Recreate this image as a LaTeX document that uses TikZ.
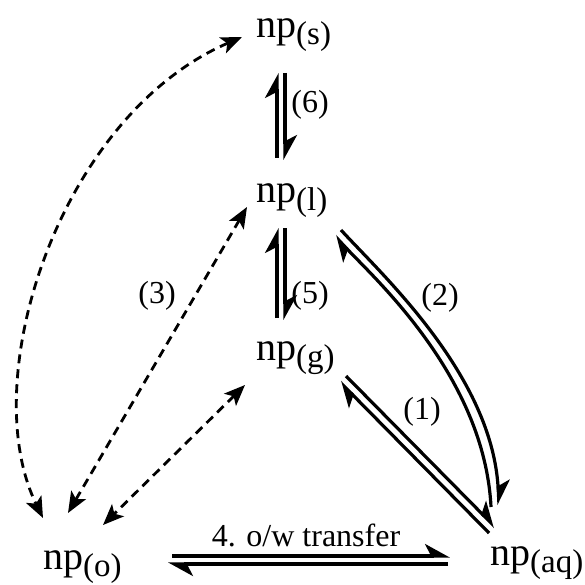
\documentclass[tikz,border=0pt]{standalone}
\usepackage{fontspec}
\setmainfont{Liberation Serif}
\usetikzlibrary{arrows.meta,calc}
\begin{document}
\begin{tikzpicture}[x=1pt,y=-1pt,
  np/.style={font=\fontsize{40}{44}\selectfont, inner sep=0pt, anchor=base west},
  lab/.style={font=\fontsize{32}{36}\selectfont, inner sep=0pt},
  eq/.style={line width=3.2pt, -{Stealth[left,length=22pt,width=24pt,inset=6pt]}},
  dsh/.style={line width=2.8pt, dash pattern=on 9pt off 6pt,
    {Stealth[length=21pt,width=17pt,inset=5pt]}-{Stealth[length=21pt,width=17pt,inset=5pt]}},
]
\useasboundingbox (0,0) rectangle (585,585);
\newcommand{\npsub}[1]{np\raisebox{-7pt}{\fontsize{33}{36}\selectfont(#1)}}
% species
\node[np] (s)  at (256,38)  {\npsub{s}};
\node[np] (l)  at (256,203) {\npsub{l}};
\node[np] (g)  at (256,360) {\npsub{g}};
\node[np] (o)  at (43,569)  {\npsub{o}};
\node[np] (aq) at (490,565) {\npsub{aq}};
% labels
\node[lab] (n6) at (310,105) {(6)};
\node[lab] (n5) at (310,296) {(5)};
\node[lab] (n3) at (157,296) {(3)};
\node[lab] (n2) at (440,298) {(2)};
\node[lab] (n1) at (422,412) {(1)};
\node[lab, anchor=base] (n4) at (306,546) {4. o/w transfer};
% (6)
\draw[eq] ($(l.base west)+(21,-45)$) -- ($(s.base west)+(21,35)$);
\draw[eq] ($(s.base west)+(29,35)$) -- ($(l.base west)+(29,-43)$);
% (5)
\draw[eq] ($(g.base west)+(21,-42)$) -- ($(l.base west)+(21,25)$);
\draw[eq] ($(l.base west)+(29,25)$) -- ($(g.base west)+(29,-40)$);
% (1)
\draw[eq] ($(g.base west)+(90,16)$) -- ($(aq.base west)+(5,-38)$);
\draw[eq] ($(aq.base west)+(-1,-32)$) -- ($(g.base west)+(84,22)$);
% (2)
\draw[eq] ($(l.base west)+(85,27)$) .. controls +(40,44) and +(-6.5,-130) .. ($(aq.base west)+(9,-60)$);
\draw[eq] ($(aq.base west)+(1,-58)$) .. controls +(-6.5,-130) and +(40,43) .. ($(l.base west)+(79,33)$);
% (4)
\draw[eq] ($(o.base west)+(129,-13)$) -- ($(aq.base west)+(-40,-9)$);
\draw[eq] ($(aq.base west)+(-42,-1)$) -- ($(o.base west)+(125,-5)$);
% dashed
\draw[dsh] ($(s.base west)+(-14,-1)$) .. controls +(-183,79) and +(-68,-138) .. ($(o.base west)+(0,-51)$);
\draw[dsh] ($(l.base west)+(-9,4)$) -- ($(o.base west)+(25,-56)$);
\draw[dsh] ($(g.base west)+(-11,25)$) -- ($(o.base west)+(60,-44)$);
\end{tikzpicture}
\end{document}
